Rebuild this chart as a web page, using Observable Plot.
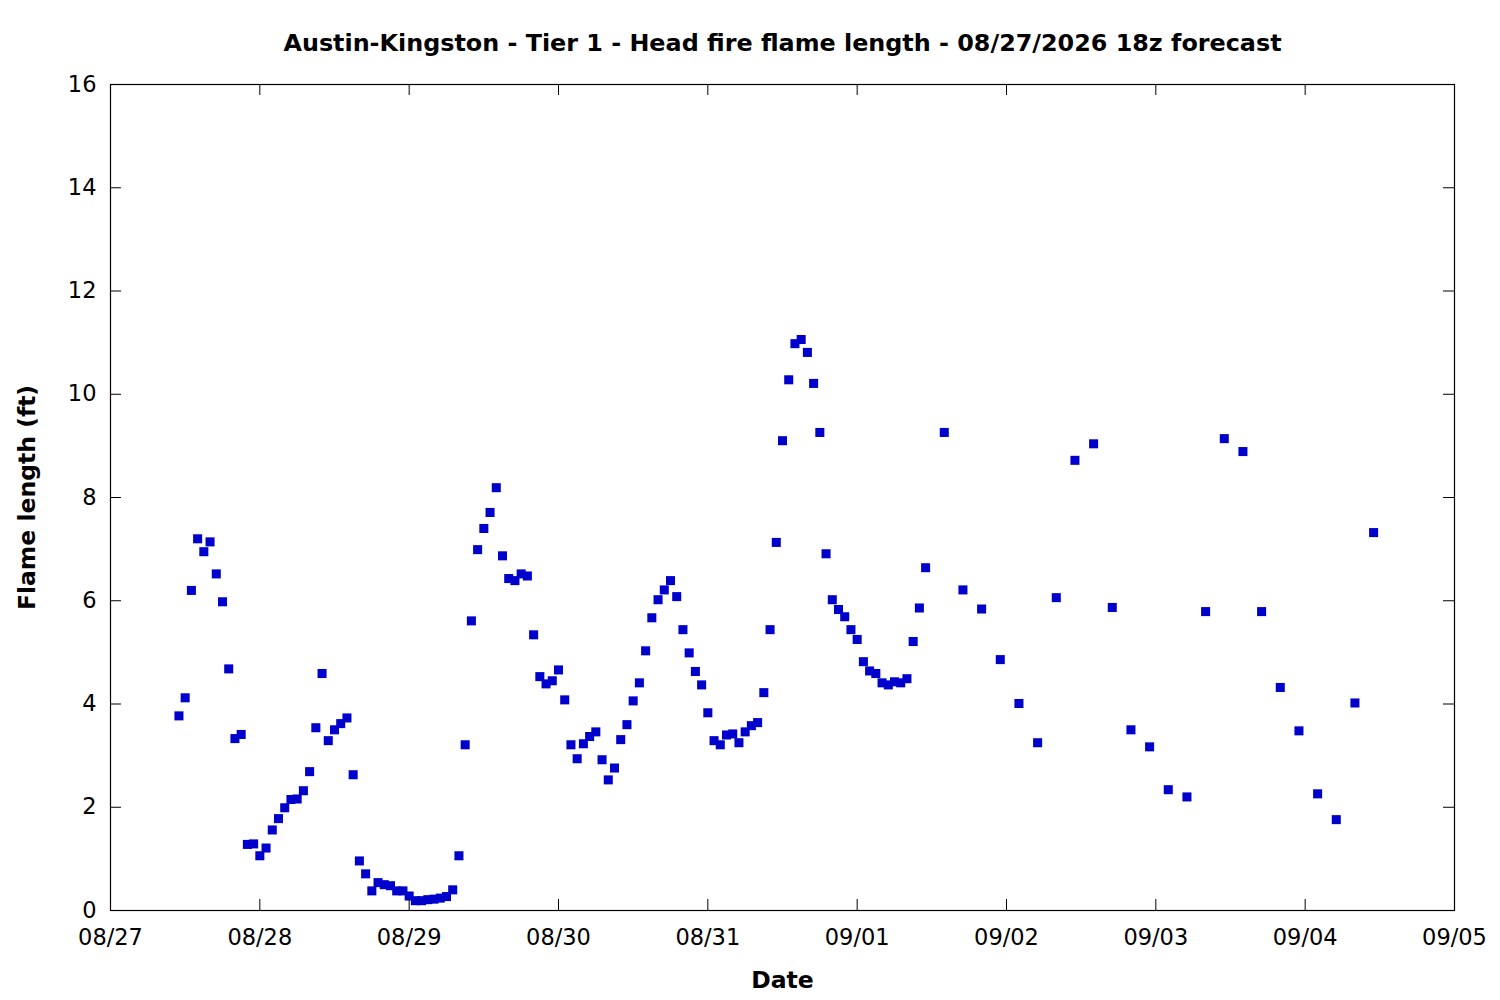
<!DOCTYPE html>
<html>
<head>
<meta charset="utf-8">
<script src="https://cdn.jsdelivr.net/npm/d3@7"></script>
<script src="https://cdn.jsdelivr.net/npm/@observablehq/plot@0.6"></script>
<style>
  body { margin: 0; background: #fff; }
  svg { display: block; }
</style>
</head>
<body>
<div id="chart"></div>
<script>
const title = "Austin-Kingston - Tier 1 - Head fire flame length - 08/27/2026 18z forecast";
const xLabel = "Date";
const yLabel = "Flame length (ft)";

// Hourly forecast values, starting 08/27 11:00
const hourlyStart = "2026-08-27T11:00:00Z";
const hourlyFlame = [
  // 08/27 11h-23h
  3.77, 4.12, 6.20, 7.20, 6.95, 7.14, 6.52, 5.98, 4.68, 3.33, 3.41, 1.28, 1.29,
  // 08/28
  1.06, 1.21, 1.56, 1.78, 1.99, 2.15, 2.16, 2.32, 2.69, 3.54, 4.59, 3.29,
  3.50, 3.62, 3.73, 2.63, 0.96, 0.71, 0.38, 0.54, 0.50, 0.48, 0.38, 0.38,
  // 08/29
  0.28, 0.19, 0.19, 0.21, 0.22, 0.24, 0.27, 0.40, 1.06, 3.21, 5.61, 6.99,
  7.40, 7.71, 8.19, 6.87, 6.43, 6.39, 6.52, 6.48, 5.34, 4.53, 4.39, 4.45,
  // 08/30
  4.66, 4.08, 3.21, 2.94, 3.23, 3.37, 3.46, 2.92, 2.53, 2.76, 3.31, 3.60,
  4.06, 4.41, 5.03, 5.67, 6.02, 6.21, 6.39, 6.08, 5.44, 4.99, 4.63, 4.37,
  // 08/31
  3.83, 3.29, 3.21, 3.40, 3.42, 3.25, 3.46, 3.58, 3.64, 4.22, 5.44, 7.13,
  9.10, 10.28, 10.98, 11.06, 10.81, 10.21, 9.26, 6.91, 6.02, 5.83, 5.69, 5.44,
  // 09/01 00h-11h
  5.25, 4.82, 4.64, 4.59, 4.41, 4.37, 4.43, 4.41, 4.49, 5.21, 5.86, 6.64
];

// Three-hourly forecast values, starting 09/01 14:00
const threeHourlyStart = "2026-09-01T14:00:00Z";
const threeHourlyFlame = [
  9.26, 6.21, 5.84, 4.86,
  4.01, 3.25, 6.06, 8.72, 9.04, 5.87, 3.50, 3.17,
  2.34, 2.20, 5.79, 9.14, 8.89, 5.79, 4.32, 3.48,
  2.26, 1.76, 4.02, 7.32
];

const dayTicks = ["2026-08-27", "2026-08-28", "2026-08-29", "2026-08-30", "2026-08-31",
                  "2026-09-01", "2026-09-02", "2026-09-03", "2026-09-04", "2026-09-05"];
const yTicks = [0, 2, 4, 6, 8, 10, 12, 14, 16];

const data = [
  ...hourlyFlame.map((v, i) => ({time: d3.utcHour.offset(new Date(hourlyStart), i), flame: v})),
  ...threeHourlyFlame.map((v, i) => ({time: d3.utcHour.offset(new Date(threeHourlyStart), 3 * i), flame: v}))
];
const dayDates = dayTicks.map(s => new Date(s + "T00:00:00Z"));

const W = 1500, H = 1000, mL = 110, mR = 46, mT = 84, mB = 90;
const tickLen = 11;
const fw = W - mL - mR, fh = H - mT - mB;

const chart = Plot.plot({
  width: W,
  height: H,
  marginLeft: mL,
  marginRight: mR,
  marginTop: mT,
  marginBottom: mB,
  style: {fontFamily: "DejaVu Sans", fontSize: "22.5px", color: "black", background: "white"},
  x: {type: "utc", domain: [dayDates[0], dayDates[dayDates.length - 1]]},
  y: {domain: [0, 16]},
  marks: [
    Plot.dot(data, {x: "time", y: "flame", symbol: "square", r: 5.1, fill: "#0000cc", stroke: "none"}),
    Plot.tickY(yTicks, {y: d => d, insetRight: fw - tickLen, stroke: "black"}),
    Plot.tickY(yTicks, {y: d => d, insetLeft: fw - tickLen, stroke: "black"}),
    Plot.tickX(dayDates, {x: d => d, insetTop: fh - tickLen, stroke: "black"}),
    Plot.tickX(dayDates, {x: d => d, insetBottom: fh - tickLen, stroke: "black"}),
    Plot.frame({stroke: "black", strokeWidth: 1.2}),
    Plot.axisX(dayDates, {anchor: "bottom", tickSize: 0, tickPadding: 19, tickFormat: d3.utcFormat("%m/%d"), label: null}),
    Plot.axisY(yTicks, {anchor: "left", tickSize: 0, tickPadding: 14, tickFormat: d => String(d), label: null}),
    Plot.text([title], {frameAnchor: "top", dy: -41, fontWeight: "bold", fontSize: 23.85, lineAnchor: "middle", textAnchor: "middle", fill: "black"}),
    Plot.text([xLabel], {frameAnchor: "bottom", dy: 70, fontWeight: "bold", fontSize: 23.5, lineAnchor: "middle", textAnchor: "middle", fill: "black"}),
    Plot.text([yLabel], {frameAnchor: "left", dx: -83, rotate: -90, fontWeight: "bold", fontSize: 23.5, lineAnchor: "middle", textAnchor: "middle", fill: "black"})
  ]
});
document.getElementById("chart").appendChild(chart);
</script>
</body>
</html>
